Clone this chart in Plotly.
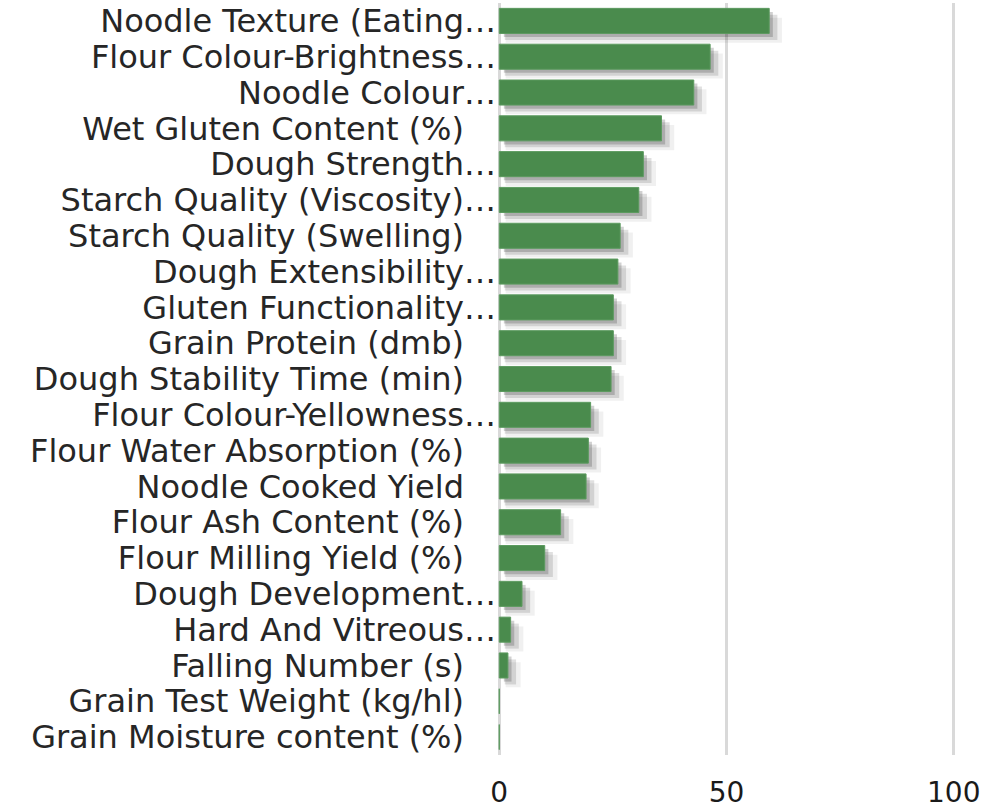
import plotly.graph_objects as go

categories = [
    "Noodle Texture (Eating…",
    "Flour Colour-Brightness…",
    "Noodle Colour…",
    "Wet Gluten Content (%)",
    "Dough Strength…",
    "Starch Quality (Viscosity)…",
    "Starch Quality (Swelling)",
    "Dough Extensibility…",
    "Gluten Functionality…",
    "Grain Protein (dmb)",
    "Dough Stability Time (min)",
    "Flour Colour-Yellowness…",
    "Flour Water Absorption (%)",
    "Noodle Cooked Yield",
    "Flour Ash Content (%)",
    "Flour Milling Yield (%)",
    "Dough Development…",
    "Hard And Vitreous…",
    "Falling Number (s)",
    "Grain Test Weight (kg/hl)",
    "Grain Moisture content (%)",
]
values = [59.4, 46.4, 42.8, 35.7, 31.7, 30.7, 26.6, 26.1, 25.1, 25.1, 24.6,
          20.1, 19.6, 19.1, 13.5, 10.0, 5.0, 2.5, 1.9, 0, 0]
x_tick_vals = [0, 50, 100]

# display labels: pad non-truncated labels so they align like the reference
display = [c if c.endswith("…") else c + "\u2003" for c in categories]
pos = list(range(len(categories)))

BAR_W = 0.70
fig = go.Figure()

# soft drop shadow (layers)
fig.add_trace(go.Bar(
    y=pos, x=[v + 1.4 if v > 0 else 0 for v in values], base=1.4,
    orientation="h", width=BAR_W, offset=-BAR_W / 2 + 0.26,
    marker=dict(color="rgba(0,0,0,0.06)", line=dict(width=0)),
    hoverinfo="skip", showlegend=False,
))
fig.add_trace(go.Bar(
    y=pos, x=[v + 0.6 if v > 0 else 0 for v in values], base=1.2,
    orientation="h", width=BAR_W, offset=-BAR_W / 2 + 0.18,
    marker=dict(color="rgba(0,0,0,0.12)", line=dict(width=0)),
    hoverinfo="skip", showlegend=False,
))
fig.add_trace(go.Bar(
    y=pos, x=[v - 0.2 if v > 0 else 0 for v in values], base=1.0,
    orientation="h", width=BAR_W, offset=-BAR_W / 2 + 0.10,
    marker=dict(color="rgba(0,0,0,0.18)", line=dict(width=0)),
    hoverinfo="skip", showlegend=False,
))
fig.add_trace(go.Bar(
    y=pos, x=values, orientation="h", width=BAR_W,
    marker=dict(color="#4a8b4d", line=dict(color="#5c9a5f", width=1)),
    showlegend=False,
))

px_per_unit = 4.55
lo, hi = -0.5, 100.5
left = 499 - (0 - lo) * px_per_unit
plot_w = (hi - lo) * px_per_unit
right = 994 - left - plot_w

fig.update_layout(
    width=994, height=809,
    margin=dict(l=left, r=right, t=3, b=54, pad=0, autoexpand=False),
    paper_bgcolor="white", plot_bgcolor="white",
    barmode="overlay",
    font=dict(family="DejaVu Sans", color="#262626"),
    xaxis=dict(
        range=[lo, hi], tickvals=x_tick_vals, showgrid=True,
        gridcolor="#d9d9d9", gridwidth=3, zeroline=True,
        zerolinecolor="#d9d9d9", zerolinewidth=3,
        tickfont=dict(size=28, color="#1a1a1a", family="DejaVu Sans"),
        ticks="", ticklabelstandoff=18, showline=False, automargin=False,
    ),
    yaxis=dict(
        tickvals=pos, ticktext=display, range=[len(pos) - 0.5, -0.5],
        tickfont=dict(size=32, color="#262626", family="DejaVu Sans"),
        ticks="", ticklabelstandoff=0, showgrid=False, zeroline=False,
        showline=False, automargin=False,
    ),
)

fig.write_html(
    "out.html",
    config={"displayModeBar": False},
    post_script="document.body.style.margin='0';document.body.style.overflow='hidden';",
)
